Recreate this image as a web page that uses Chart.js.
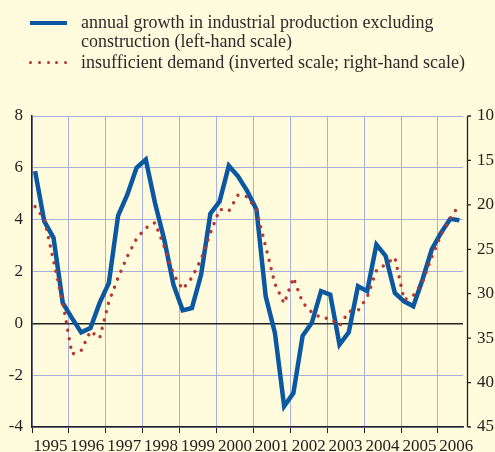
<!DOCTYPE html>
<html>
<head>
<meta charset="utf-8">
<script src="https://cdn.jsdelivr.net/npm/chart.js@4.4.1/dist/chart.umd.min.js"></script>
<style>
  html, body { margin: 0; padding: 0; background: #fffbdc; }
  #wrap { position: relative; width: 495px; height: 452px; overflow: hidden; }
  #legend { position: absolute; left: 0; top: 0; width: 495px; font: 18px "Liberation Serif", serif; color: #2a2a2a; }
  .txt { position: absolute; left: 81px; white-space: nowrap; line-height: 19px; }
  .blue-key { position: absolute; left: 30px; top: 21px; width: 37px; height: 4px; background: #0a57a2; }
  .dot { position: absolute; width: 3.4px; height: 3.4px; border-radius: 50%; background: #b5372f; top: 61px; }
</style>
</head>
<body>
<div id="wrap">
  <canvas id="chart" width="495" height="452"></canvas>
  <div id="legend">
    <div class="blue-key"></div>
    <div class="txt" style="top:13px">annual growth in industrial production excluding</div>
    <div class="txt" style="top:32px">construction (left-hand scale)</div>
    <span class="dot" style="left:29px"></span>
    <span class="dot" style="left:38px"></span>
    <span class="dot" style="left:46.5px"></span>
    <span class="dot" style="left:55px"></span>
    <span class="dot" style="left:64px"></span>
    <div class="txt" style="top:53px">insufficient demand (inverted scale; right-hand scale)</div>
  </div>
</div>
<script>
// quarterly data, 1995 Q1 to 2006 Q3
const startYear = 1995;

// annual growth in industrial production excl. construction (%, left scale)
const growth = [
  5.87, 3.93, 3.30, 0.79,
  0.20, -0.35, -0.18, 0.79,
  1.56, 4.16, 4.96, 6.00,
  6.32, 4.64, 3.23, 1.49,
  0.50, 0.59, 1.88, 4.23,
  4.70, 6.08, 5.67, 5.10,
  4.39, 1.04, -0.37, -3.20,
  -2.69, -0.48, 0.02, 1.24,
  1.11, -0.82, -0.35, 1.43,
  1.24, 3.04, 2.60, 1.17,
  0.85, 0.66, 1.69, 2.85,
  3.49, 4.03, 3.98
];

// insufficient demand (right scale, inverted)
const demand = [
  20.2, 21.6, 26.3, 31.0,
  36.8, 36.4, 34.2, 35.0,
  30.9, 28.2, 25.8, 23.8,
  22.6, 22.0, 24.7, 27.8,
  29.5, 28.2, 26.1, 23.2,
  20.5, 20.7, 18.9, 19.1,
  20.6, 24.7, 28.9, 31.1,
  28.2, 31.0, 32.1, 32.7,
  32.8, 33.6, 32.0, 31.9,
  30.4, 27.4, 26.7, 25.9,
  30.7, 30.2, 28.7, 25.9,
  23.4, 21.6, 19.9
];

const leftTicks = [-4, -2, 0, 2, 4, 6, 8];
const rightTicks = [10, 15, 20, 25, 30, 35, 40, 45];

const toPoints = arr => arr.map((v, i) => ({ x: startYear + (i * 3 + 1) / 12, y: v }));

const axisFont = { family: '"Liberation Serif", serif', size: 17 };
const gridBlue = '#a3b1db';
const ink = '#222';

// right axis is drawn slightly detached from the plot area
const rightAxisLine = {
  id: 'rightAxisLine',
  afterDraw(chart) {
    const { ctx, chartArea } = chart;
    const s = chart.scales.y2;
    const x = Math.round(chartArea.right + 4) + 0.5;
    ctx.save();
    ctx.strokeStyle = ink;
    ctx.lineWidth = 1.3;
    ctx.beginPath();
    ctx.moveTo(x, chartArea.top);
    ctx.lineTo(x, chartArea.bottom);
    s.ticks.forEach(t => {
      const y = s.getPixelForValue(t.value);
      ctx.moveTo(x, y);
      ctx.lineTo(x + 3.5, y);
    });
    ctx.stroke();
    ctx.restore();
  }
};

new Chart(document.getElementById('chart'), {
  type: 'line',
  data: {
    datasets: [
      {
        label: 'annual growth in industrial production excluding construction (left-hand scale)',
        data: toPoints(growth),
        yAxisID: 'y',
        borderColor: '#0a57a2',
        borderWidth: 4.5,
        borderJoinStyle: 'miter',
        pointRadius: 0,
        tension: 0,
        order: 1
      },
      {
        label: 'insufficient demand (inverted scale; right-hand scale)',
        data: toPoints(demand),
        yAxisID: 'y2',
        borderColor: '#b5372f',
        borderWidth: 3.4,
        borderDash: [0.01, 8.6],
        borderCapStyle: 'round',
        pointRadius: 0,
        tension: 0,
        order: 0
      }
    ]
  },
  options: {
    responsive: false,
    animation: false,
    devicePixelRatio: 1,
    layout: { padding: { top: 116, left: 0, right: 0, bottom: 0 } },
    plugins: {
      legend: { display: false },
      tooltip: { enabled: false }
    },
    scales: {
      x: {
        type: 'linear',
        min: 1995,
        max: 2006.68,
        border: { display: true, color: ink, width: 1.5 },
        grid: { color: gridBlue, lineWidth: 1, drawTicks: true, tickLength: 6, tickColor: ink },
        ticks: {
          stepSize: 1,
          includeBounds: false,
          labelOffset: 18.4,
          padding: 3,
          maxRotation: 0,
          autoSkip: false,
          color: ink,
          font: axisFont,
          callback: v => String(v)
        },
        afterBuildTicks: s => { s.ticks = s.ticks.filter(t => Number.isInteger(t.value)); },
        afterFit: s => { s.height = 25; s.paddingLeft = 0; s.paddingRight = 0; }
      },
      y: {
        position: 'left',
        min: -4,
        max: 8,
        border: { display: true, color: ink, width: 1.5 },
        grid: {
          drawTicks: false,
          color: c => c.tick && c.tick.value === 0 ? ink : gridBlue,
          lineWidth: c => c.tick && c.tick.value === 0 ? 1.5 : 1
        },
        ticks: { stepSize: 2, padding: 9, color: ink, font: axisFont },
        afterBuildTicks: s => { s.ticks = leftTicks.map(v => ({ value: v })); },
        afterFit: s => { s.width = 32; }
      },
      y2: {
        position: 'right',
        min: 10,
        max: 45,
        reverse: true,
        border: { display: false },
        grid: { display: false },
        ticks: { stepSize: 5, padding: 6, color: ink, font: axisFont },
        afterBuildTicks: s => { s.ticks = rightTicks.map(v => ({ value: v })); },
        afterFit: s => { s.width = 32; }
      }
    }
  },
  plugins: [rightAxisLine]
});
</script>
</body>
</html>
